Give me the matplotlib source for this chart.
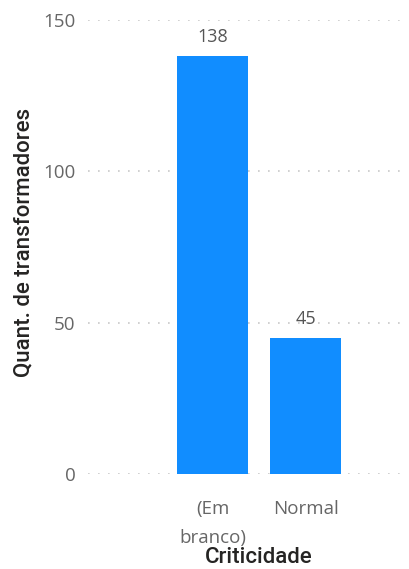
import matplotlib
matplotlib.use("Agg")
import matplotlib.pyplot as plt

categories = ["(Em\nbranco)", "Normal"]
values = [138, 45]
yticks = [0, 50, 100, 150]

fig = plt.figure(figsize=(4.10, 5.69), dpi=100)
ax = fig.add_axes([88 / 410, 1 - 474 / 569, (405 - 88) / 410, (474 - 20) / 569])

x = list(range(len(categories)))
ax.bar(x, values, width=0.76, color="#118DFF", zorder=3)

for xi, v in zip(x, values):
    ax.text(xi, v + 3.3, str(v), ha="center", va="bottom", fontsize=13,
            color="#555555", family="Open Sans")

ax.set_ylim(0, 150)
ax.set_xlim(-1.34, 2.07)
ax.set_yticks(yticks)
ax.set_yticklabels([str(t) for t in yticks], family="Open Sans", fontsize=13.5, color="#666666")
ax.set_xticks(x)
ax.set_xticklabels(categories, family="Open Sans", fontsize=13.5, color="#666666",
                   linespacing=1.75)
ax.tick_params(axis="both", length=0)
ax.tick_params(axis="y", pad=9)
ax.tick_params(axis="x", pad=19)

ax.grid(axis="y", color="#C8C8C8", linestyle=(0, (1, 5)), linewidth=1.2, zorder=0)
for s in ax.spines.values():
    s.set_visible(False)

ax.set_ylabel("Quant. de transformadores", family="Roboto", fontsize=16,
              fontweight="medium", color="#252423", va="center", ha="center")
ax.yaxis.set_label_coords(-0.202, 0.511)
ax.set_xlabel("Criticidade", family="Roboto", fontsize=16, fontweight="medium",
              color="#252423", va="center", ha="center")
ax.xaxis.set_label_coords(0.539, -0.185)

fig.savefig("out.png", dpi=100)
